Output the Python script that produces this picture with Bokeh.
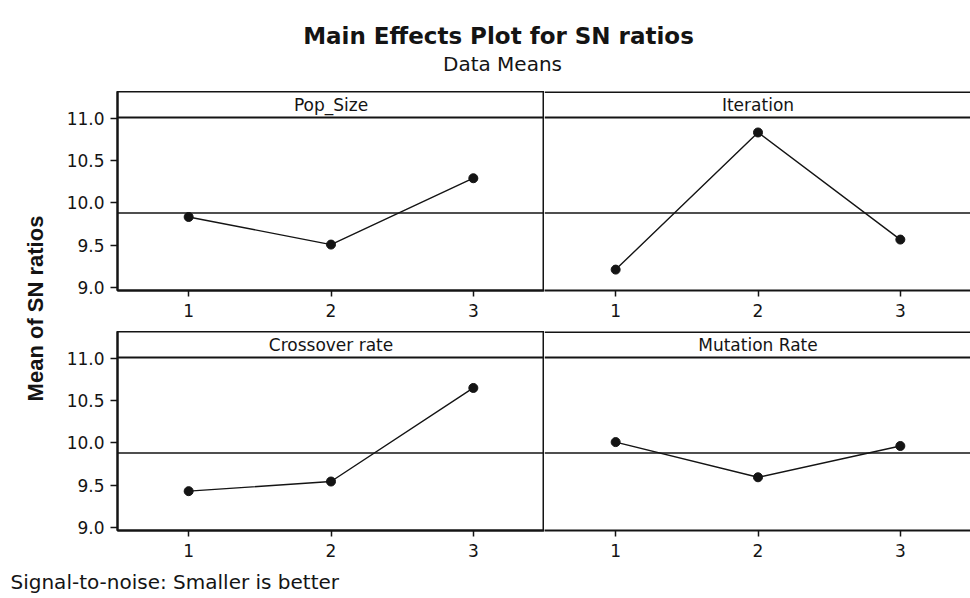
from bokeh.plotting import figure
from bokeh.layouts import column, row
from bokeh.models import Range1d, FixedTicker, Span, Label, NumeralTickFormatter
from bokeh.embed import file_html
from bokeh.resources import INLINE

# ---------------- data ----------------
levels = [1, 2, 3]
x_tick_values = [1, 2, 3]
y_tick_values = [9.0, 9.5, 10.0, 10.5, 11.0]
factor_names = ["Pop_Size", "Iteration", "Crossover rate", "Mutation Rate"]
pop_size = [9.834, 9.508, 10.292]
iteration = [9.212, 10.833, 9.567]
crossover_rate = [9.43, 9.544, 10.65]
mutation_rate = [10.01, 9.594, 9.964]
grand_mean = 9.882
title_text = "Main Effects Plot for SN ratios"
subtitle_text = "Data Means"
y_label_text = "Mean of SN ratios"
footer_text = "Signal-to-noise: Smaller is better"

# ---------------- style / layout ----------------
INK = "#141414"
FONT = "DejaVu Sans"
Y_LO, Y_HI = 8.965, 11.01     # data area of each panel
FRAME_H = 199
HEADER_PX = 26
PX_PER_UNIT = (FRAME_H - HEADER_PX) / (Y_HI - Y_LO)
Y_END = Y_HI + HEADER_PX / PX_PER_UNIT
LEFT_FRAME_W = 427
RIGHT_FRAME_W = 426
RIGHT_X_END = 0.5 + RIGHT_FRAME_W / (LEFT_FRAME_W / 3.0)


def panel(name, vals, is_left, bottom_border):
    x_end = 3.5 if is_left else RIGHT_X_END
    fw = LEFT_FRAME_W if is_left else RIGHT_FRAME_W
    p = figure(frame_width=fw, frame_height=FRAME_H,
               x_range=Range1d(0.5, x_end), y_range=Range1d(Y_LO, Y_END),
               output_backend="svg", toolbar_location=None,
               y_axis_location="left" if is_left else None,
               min_border_left=57 if is_left else 0, min_border_right=0,
               min_border_top=0, min_border_bottom=bottom_border)
    p.grid.visible = False
    p.background_fill_color = "white"
    p.border_fill_color = "white"
    if is_left:
        p.outline_line_color = INK
        p.outline_line_width = 2
    else:
        p.outline_line_color = None
        p.add_layout(Span(location=Y_END, dimension="width", line_color=INK, line_width=3))

    xa = p.xaxis[0]
    xa.ticker = FixedTicker(ticks=x_tick_values)
    xa.axis_line_color = INK
    xa.axis_line_width = 2
    xa.major_tick_line_color = INK
    xa.major_tick_line_width = 1.5
    xa.major_tick_out = 6
    xa.major_tick_in = 0
    xa.minor_tick_line_color = None
    xa.major_label_text_font = FONT
    xa.major_label_text_font_size = "17px"
    xa.major_label_text_color = INK
    xa.major_label_standoff = 7

    if is_left:
        ya = p.yaxis[0]
        ya.ticker = FixedTicker(ticks=y_tick_values)
        ya.formatter = NumeralTickFormatter(format="0.0")
        ya.axis_line_color = INK
        ya.axis_line_width = 2
        ya.major_tick_line_color = INK
        ya.major_tick_line_width = 1.5
        ya.major_tick_out = 7
        ya.major_tick_in = 0
        ya.minor_tick_line_color = None
        ya.major_label_text_font = FONT
        ya.major_label_text_font_size = "17px"
        ya.major_label_text_color = INK
        ya.major_label_standoff = 6

    # header strip
    p.add_layout(Span(location=Y_HI, dimension="width", line_color=INK, line_width=2))
    p.add_layout(Label(x=2.0, y=Y_HI + (HEADER_PX / 2) / PX_PER_UNIT, text=name,
                       text_align="center", text_baseline="middle",
                       text_font=FONT, text_font_size="17px", text_color=INK))
    # grand mean reference
    p.add_layout(Span(location=grand_mean, dimension="width", line_color=INK, line_width=1.5))

    p.line(levels, vals, line_color=INK, line_width=1.4)
    p.scatter(levels, vals, size=9, color=INK)
    return p


p1 = panel(factor_names[0], pop_size, True, 41)
p2 = panel(factor_names[1], iteration, False, 41)
p3 = panel(factor_names[2], crossover_rate, True, 35)
p4 = panel(factor_names[3], mutation_rate, False, 35)


def blank(w, h):
    f = figure(width=w, height=h, x_range=Range1d(0, w), y_range=Range1d(0, h),
               output_backend="svg", toolbar_location=None,
               x_axis_location=None, y_axis_location=None, min_border=0)
    f.grid.visible = False
    f.outline_line_color = None
    return f


TOTAL_W = 970
header = blank(TOTAL_W, 91)
header.add_layout(Label(x=498, y=56, text=title_text, text_align="center",
                        text_baseline="alphabetic", text_font=FONT,
                        text_font_size="23px", text_font_style="bold", text_color=INK))
header.add_layout(Label(x=502, y=28, text=subtitle_text, text_align="center",
                        text_baseline="alphabetic", text_font=FONT,
                        text_font_size="20px", text_color=INK))

rows_h = (FRAME_H + 41) + (FRAME_H + 35)
ylab = blank(60, rows_h)
ylab.add_layout(Label(x=35, y=rows_h - 217, text=y_label_text, angle=90, angle_units="deg",
                      text_align="center", text_baseline="middle",
                      text_font="Liberation Sans", text_font_size="22px",
                      text_font_style="bold", text_color=INK))

footer = blank(TOTAL_W, 30)
footer.add_layout(Label(x=10, y=14, text=footer_text, text_align="left",
                        text_baseline="middle", text_font=FONT,
                        text_font_size="20px", text_color=INK))

layout = column(header,
                row(ylab, column(row(p1, p2), row(p3, p4))),
                footer)

open("out.html", "w").write(file_html(layout, INLINE))
